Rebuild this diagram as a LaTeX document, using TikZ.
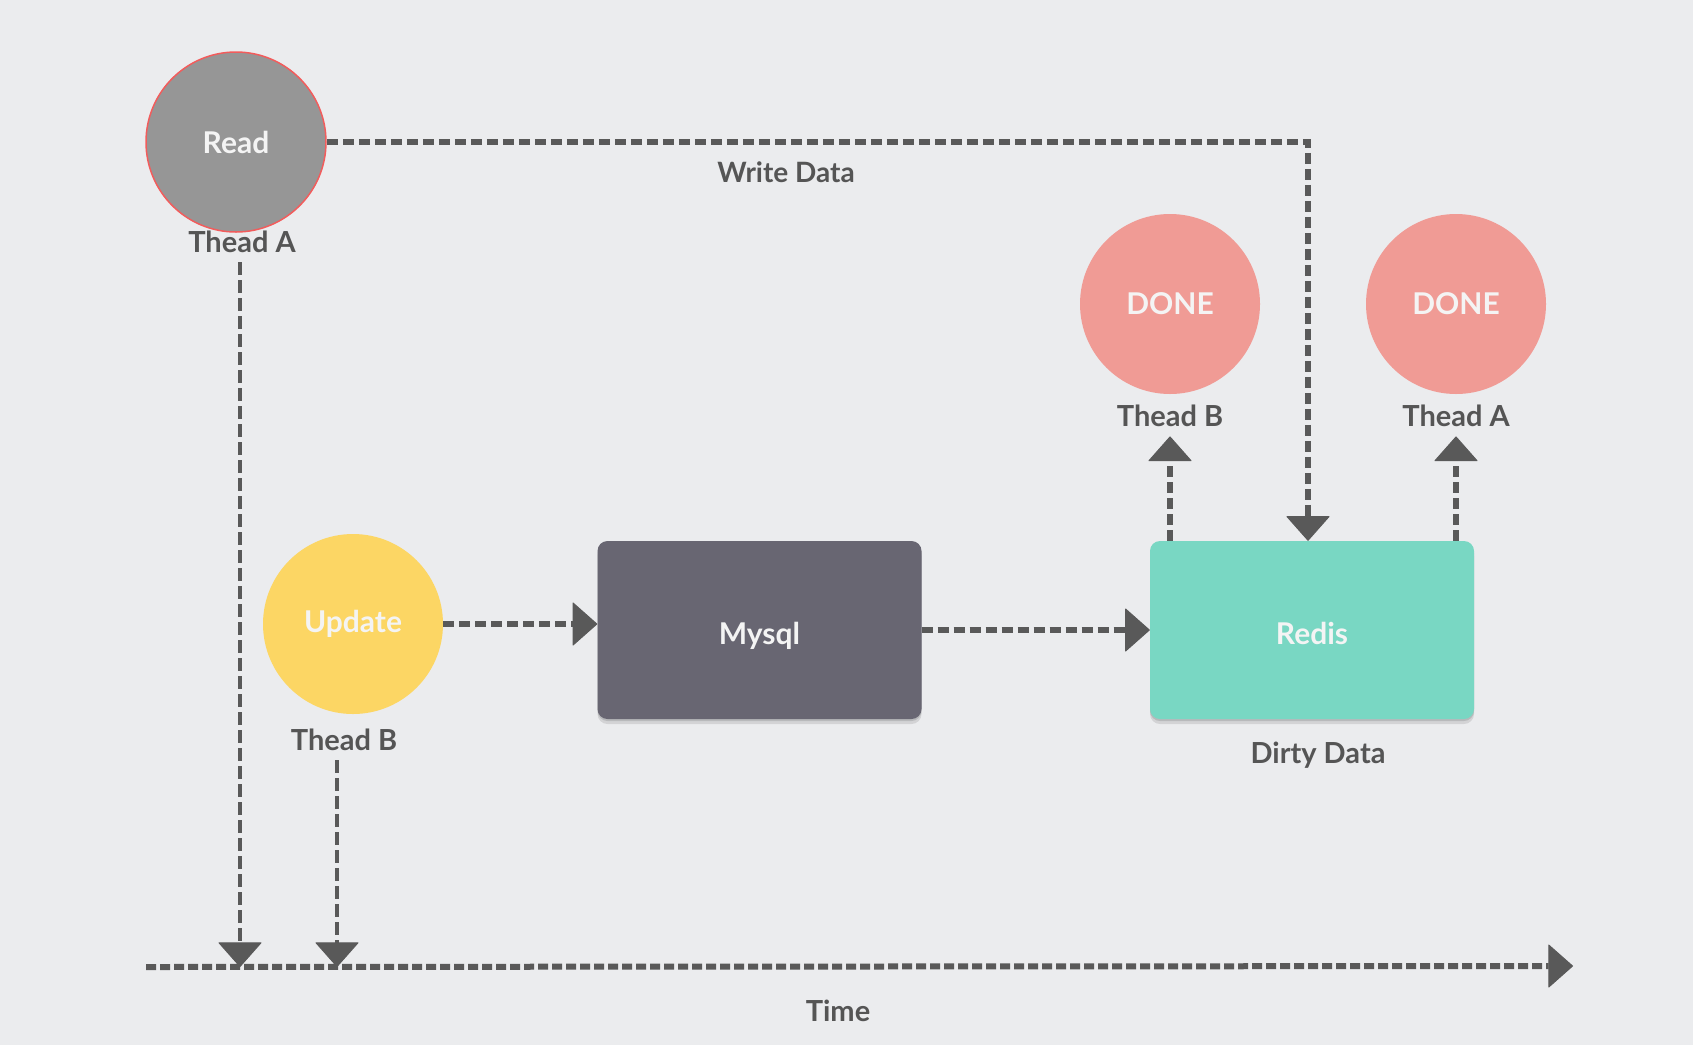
\documentclass[tikz,border=0pt]{standalone}
\usepackage{fontspec}
\setmainfont{Lato}
\usetikzlibrary{arrows.meta,shadows}

\definecolor{bgcol}{HTML}{EBECEE}
\definecolor{linecol}{HTML}{595959}
\definecolor{tagcol}{HTML}{555555}
\definecolor{innercol}{HTML}{F4F4F4}
\definecolor{readgray}{HTML}{969696}
\definecolor{readedge}{HTML}{F25C5C}
\definecolor{updateyellow}{HTML}{FCD664}
\definecolor{mysqlgray}{HTML}{686672}
\definecolor{redisgreen}{HTML}{79D7C3}
\definecolor{donepink}{HTML}{F09B95}

\tikzset{
  jobnode/.style={circle, minimum size=180pt, inner sep=0pt, text=innercol,
    font=\fontsize{30}{32}\selectfont\bfseries},
  storebox/.style={rectangle, rounded corners=10pt, minimum width=324pt,
    minimum height=178pt, text=innercol, font=\fontsize{30}{32}\selectfont\bfseries,
    text height=35pt, text depth=6pt,
    drop shadow={shadow xshift=0pt, shadow yshift=-2pt, opacity=0.12, fill=black},
    drop shadow={shadow xshift=0pt, shadow yshift=-5pt, opacity=0.10, fill=black}},
  tagtext/.style={text=tagcol, inner sep=10pt, anchor=base,
    font=\fontsize{29}{31}\selectfont\bfseries},
  flow/.style={color=linecol, line width=6pt, dash pattern=on 11pt off 5pt,
    -{Triangle[width=44pt, length=25pt, round, line width=1pt]}},
}

\begin{document}
\begin{tikzpicture}[x=1pt,y=-1pt]
  \fill[bgcol] (0,0) rectangle (1693,1045);
  \useasboundingbox (0,0) rectangle (1693,1045);

  % threads
  \node[jobnode, fill=readgray, draw=readedge, line width=1.5pt] (read) at (236,142) {Read};
  \node[tagtext] (readlbl) at (242,252) {Thead A};
  \node[jobnode, fill=updateyellow] (update) at (353,624) {Update};
  \node[tagtext] (updatelbl) at (344,750) {Thead B};

  % stores
  \node[storebox, fill=mysqlgray] (mysql) at (759.5,630) {Mysql};
  \node[storebox, fill=redisgreen] (redis) at (1312,630) {Redis};
  \node[tagtext] (dirtylbl) at (1318,763) {Dirty Data};

  % results
  \node[jobnode, fill=donepink] (doneB) at (1170,304) {DONE};
  \node[tagtext] (doneBlbl) at (1170,426) {Thead B};
  \node[jobnode, fill=donepink] (doneA) at (1456,304) {DONE};
  \node[tagtext] (doneAlbl) at (1456,426) {Thead A};

  \node[tagtext, font=\fontsize{28}{30}\selectfont\bfseries] (writelbl) at (786,182) {Write Data};

  % time axis
  \coordinate (tstart) at (146,967);
  \coordinate (tend) at (1573,966);
  \node[tagtext] (timelbl) at (838,1021) {Time};
  \draw[flow, dash pattern=on 10pt off 4pt] (tstart) -- (tend);

  \draw[flow] (read.east) -| ([xshift=-4pt]redis.north);
  \draw[flow] (update.east) -- (update.east -| mysql.west);
  \draw[flow] (mysql.east) -- (redis.west);
  \draw[flow] (redis.north -| doneBlbl.south) -- (doneBlbl.south);
  \draw[flow] (redis.north -| doneAlbl.south) -- (doneAlbl.south);

  \draw[flow, line width=4pt, dash pattern=on 13pt off 5pt] ([xshift=-2pt]readlbl.south) -- ([xshift=-2pt]readlbl.south |- tstart);
  \draw[flow, line width=4pt, dash pattern=on 13pt off 5pt] ([xshift=-7pt]updatelbl.south) -- ([xshift=-7pt]updatelbl.south |- tstart);
\end{tikzpicture}
\end{document}
